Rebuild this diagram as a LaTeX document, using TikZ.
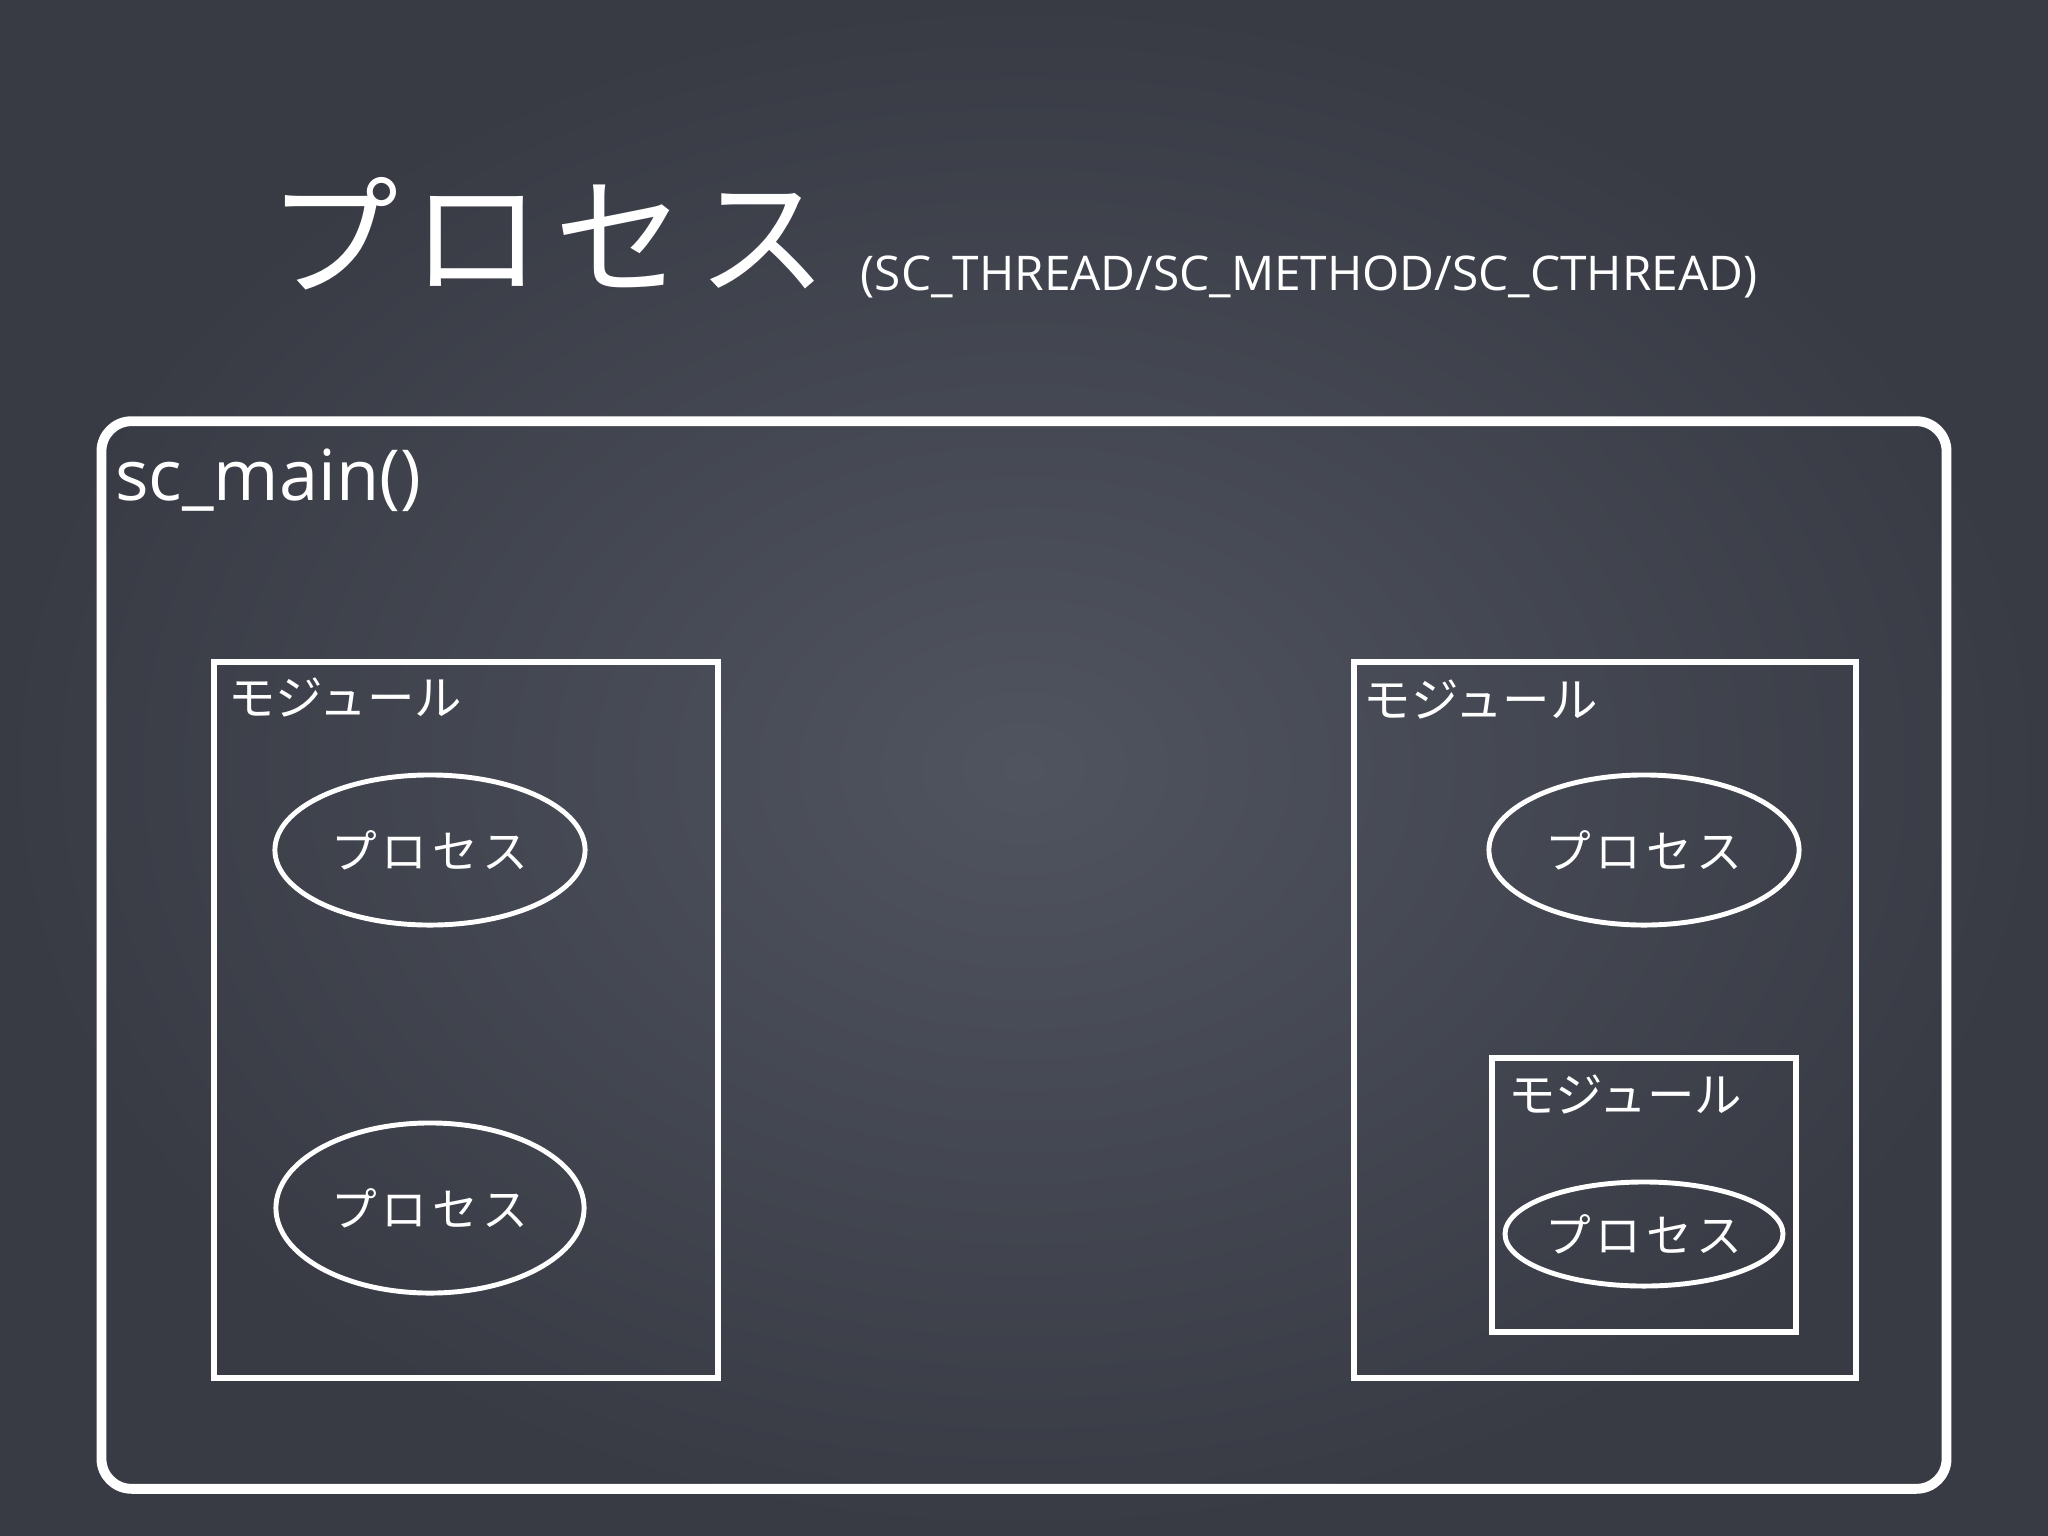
\documentclass[tikz,border=0pt]{standalone}
\usepackage{fontspec}
\setmainfont{Open Sans}
\newfontfamily\jp{Noto Sans CJK JP}
\newfontfamily\jpwide[LetterSpace=10]{Noto Sans CJK JP}
\usetikzlibrary{shapes.geometric}
\definecolor{board}{RGB}{80,84,95}
\definecolor{boardedge}{RGB}{56,59,68}
\begin{document}
\begin{tikzpicture}[x=0.01cm,y=-0.01cm,
	modbox/.style={draw=white,line width=1.7pt,inner sep=0pt},
	modlabel/.style={anchor=north west,inner sep=0pt,text=white,font=\jp\fontsize{13.5pt}{15pt}\selectfont},
	proc/.style={ellipse,draw=white,line width=1.4pt,inner sep=0pt,text=white,font=\jpwide\fontsize{13pt}{15pt}\selectfont}]
	\shade[inner color=board,outer color=boardedge] (0,0) rectangle (2048,1536);
	\useasboundingbox (0,0) rectangle (2048,1536);
	\node[text=white,anchor=base west,inner sep=0pt,font=\jpwide\fontsize{37pt}{42pt}\selectfont] (title) at (268,285) {プロセス};
	\node[text=white,anchor=base west,inner sep=0pt,font=\fontsize{13.6pt}{16pt}\selectfont] (subtitle) at (860,290) {(SC\_THREAD/SC\_METHOD/SC\_CTHREAD)};
	\node[draw=white,line width=2.8pt,rounded corners=0.3cm,inner sep=0pt,minimum width=18.44cm,minimum height=10.67cm] (main) at (1024,955) {};
	\node[text=white,anchor=north west,inner sep=0pt,font=\fontsize{20pt}{23pt}\selectfont] (mainlabel) at ([shift={(18,32)}]main.north west) {sc\_main()};
	\node[modbox,minimum width=5.03cm,minimum height=7.15cm] (modL) at (466,1020) {};
	\node[modlabel] (labL) at ([shift={(16,18)}]modL.north west) {モジュール};
	\node[proc,minimum width=3.1cm,minimum height=1.5cm] (procL1) at (430,850) {プロセス};
	\node[proc,minimum width=3.08cm,minimum height=1.7cm] (procL2) at (430,1208) {プロセス};
	\node[modbox,minimum width=5.02cm,minimum height=7.15cm] (modR) at (1605,1020) {};
	\node[modlabel] (labR) at ([shift={(12,20)}]modR.north west) {モジュール};
	\node[proc,minimum width=3.1cm,minimum height=1.5cm] (procR1) at (1644,850) {プロセス};
	\node[modbox,minimum width=3.03cm,minimum height=2.74cm] (modS) at (1644,1195) {};
	\node[modlabel] (labS) at ([shift={(18,19)}]modS.north west) {モジュール};
	\node[proc,minimum width=2.52cm,minimum height=1.04cm] (procS) at (1644,1234) {プロセス};
\end{tikzpicture}
\end{document}
